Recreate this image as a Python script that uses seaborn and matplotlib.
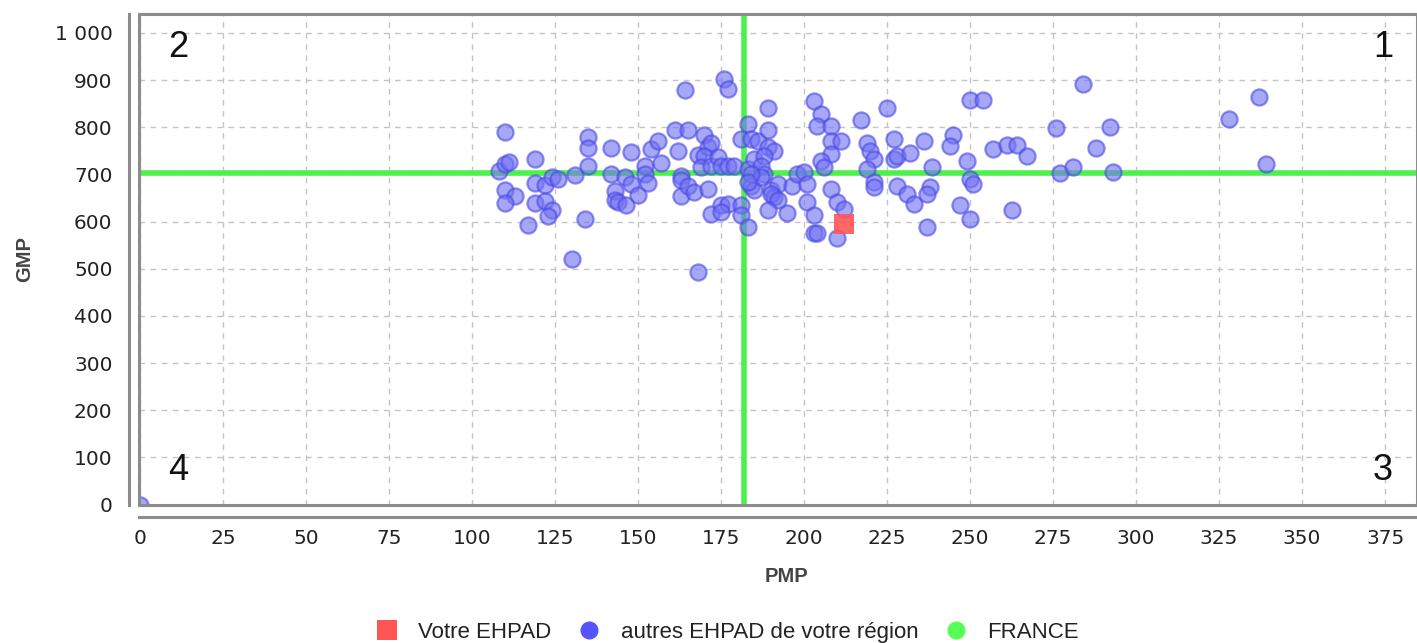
import matplotlib
matplotlib.use("Agg")
import matplotlib.pyplot as plt
import seaborn as sns
import pandas as pd
from matplotlib.lines import Line2D
from matplotlib.patches import Rectangle

# ---------------- data ----------------
pmp_autres = [0,
    110, 108, 110, 111, 119, 110, 113, 110, 119, 122, 124, 126, 119, 122, 124, 123, 117, 131, 135, 135,
    135, 134, 130, 142, 148, 142, 143, 143, 144, 146.5, 146, 148, 150, 152, 152, 153, 154, 156, 157, 161,
    165, 162, 164, 163, 163, 163, 165, 167, 168, 170, 171, 172, 170, 169, 172, 171, 172, 175, 177, 176,
    177, 174, 175, 177, 179, 181, 183, 184, 181, 181, 183, 168, 183, 185, 184, 185, 175,
    186, 189, 189, 189, 191, 188, 187, 188, 187, 184, 183, 190, 192, 191, 190, 192, 189, 196.5, 195, 198,
    200, 201, 201, 203, 203, 205, 204, 208, 208, 211, 208, 205, 206, 208, 210, 212, 203, 204, 210, 217,
    225, 219, 220, 221, 219, 221, 221, 227, 227, 228, 228, 232, 231, 233, 236, 238.5, 238, 237, 237, 245,
    244, 247, 249, 250, 251, 250, 250, 254, 257, 261, 264, 262.5,
    267, 276, 284, 277, 281, 288, 292, 293, 328, 337, 339]
gmp_autres = [0,
    790, 708, 722, 726, 732, 666, 655, 640, 682, 678, 694, 690, 640, 643, 624, 612, 592, 699, 780, 755,
    718, 605, 520, 755, 748, 701, 664, 645, 641, 636, 694, 680, 657, 718, 701, 682, 753, 771, 725, 794,
    794, 750, 878, 697, 687, 655, 676, 662, 741, 783, 757, 767, 739, 715, 718, 669, 617, 634, 638, 903,
    880, 736, 718, 718, 718, 774, 806, 774, 634, 613, 589, 494, 711, 732, 676, 666, 620,
    770, 841, 795, 757, 750, 739, 718, 701, 694, 701, 683, 666, 680, 652, 659, 645, 624, 676, 618, 701,
    704, 680, 641, 613, 855, 827, 802, 802, 771, 771, 743, 729, 715, 669, 641, 627, 575, 575, 564, 815,
    841, 767, 750, 732, 711, 683, 673, 774, 732, 739, 676, 746, 659, 638, 771, 715, 673, 659, 589, 783,
    760, 634, 729, 690, 680, 606, 858, 858, 753, 762, 762, 624,
    739, 799, 892, 703, 715, 755, 800, 704, 817, 863, 722]
votre_pmp = [212]
votre_gmp = [595]
france_pmp = 182
france_gmp = 703

x_ticks = list(range(0, 376, 25))
y_ticks = list(range(0, 1001, 100))
y_tick_labels = ["0", "100", "200", "300", "400", "500", "600", "700", "800", "900", "1 000"]
quadrants = ["1", "2", "3", "4"]
legend_labels = ["Votre EHPAD", "autres EHPAD de votre région", "FRANCE"]

# ---------------- style ----------------
sns.set_theme(style="white")
plt.rcParams["font.family"] = ["DejaVu Sans"]

BLUE = "#5555ff"
RED = "#ff5555"
GREEN = "#55ff55"
GRAY = "#8c8c8c"

fig = plt.figure(figsize=(14.17, 6.43), dpi=100)
ax = fig.add_axes([139 / 1417, 1 - 504.5 / 643, 1 - 139 / 1417, (504.5 - 14) / 643])

df_autres = pd.DataFrame({"PMP": pmp_autres, "GMP": gmp_autres})
df_votre = pd.DataFrame({"PMP": votre_pmp, "GMP": votre_gmp})

# France lines
ax.axvline(france_pmp, color="#4ef04e", lw=4, zorder=2)
ax.axhline(france_gmp, color="#4ef04e", lw=4, zorder=2)

sns.scatterplot(data=df_autres, x="PMP", y="GMP", ax=ax, s=135, color="#7272f4",
                alpha=0.62, edgecolor="#4a4ae6", linewidth=1.6, zorder=3, legend=False)
sns.scatterplot(data=df_votre, x="PMP", y="GMP", ax=ax, s=200, marker="s", color=RED,
                alpha=0.9, edgecolor=RED, linewidth=0, zorder=4, legend=False)

ax.set_xlim(-0.3, 384.6)
ax.set_ylim(0, 1040)
ax.set_xticks(x_ticks)
ax.set_yticks(y_ticks)
ax.set_yticklabels(y_tick_labels)

ax.grid(True, color="#c4c4c4", linestyle=(0, (4, 4)), linewidth=1)
ax.set_axisbelow(True)

# frame
for s in ["top", "right"]:
    ax.spines[s].set_visible(False)
ax.spines["left"].set_position(("outward", 7))
ax.spines["bottom"].set_position(("outward", 9))
for s in ["left", "bottom"]:
    ax.spines[s].set_color(GRAY)
    ax.spines[s].set_linewidth(2.2)
ax.add_patch(Rectangle((0, 0), 1, 1, transform=ax.transAxes, fill=False,
                       edgecolor=GRAY, lw=2.2, clip_on=False, zorder=5))

ax.tick_params(axis="both", direction="out", length=4, width=1.5, color=GRAY,
               labelsize=14.5, labelcolor="#222222")
ax.tick_params(axis="y", pad=8)
ax.tick_params(axis="x", pad=4.5)

ax.set_xlabel("PMP", fontsize=14.5, fontweight="bold", color="#444444",
              family=["Liberation Sans", "DejaVu Sans"], va="center")
ax.set_ylabel("GMP", fontsize=14.5, fontweight="bold", color="#444444",
              family=["Liberation Sans", "DejaVu Sans"], va="center")
ax.xaxis.set_label_coords((787 - 139) / 1278, -(576 - 504.5) / 490.5)
ax.yaxis.set_label_coords((25 - 139) / 1278, 0.5)

# quadrant numbers
qx = [374.4, 11.4, 374.4, 11.4]
qy = [968, 968, 72, 72]
for lab, x, y in zip(quadrants, qx, qy):
    ax.text(x, y, lab, fontsize=26, ha="center", va="center", color="#111111", zorder=6,
            family=["Liberation Sans", "DejaVu Sans"])

handles = [
    Line2D([], [], marker="s", linestyle="none", markersize=14, color=RED, markeredgewidth=0),
    Line2D([], [], marker="o", linestyle="none", markersize=13, color=BLUE, markeredgewidth=0),
    Line2D([], [], marker="o", linestyle="none", markersize=13, color=GREEN, markeredgewidth=0),
]
fig.legend(handles, legend_labels, loc="center", bbox_to_anchor=(0.5134, 0.017), ncol=3,
           frameon=False, handlelength=1.0, handletextpad=0.9, columnspacing=1.2,
           borderaxespad=0, borderpad=0,
           prop={"family": ["Liberation Sans", "DejaVu Sans"], "size": 16},
           labelcolor="#222222")

fig.savefig("out.png", dpi=100)
